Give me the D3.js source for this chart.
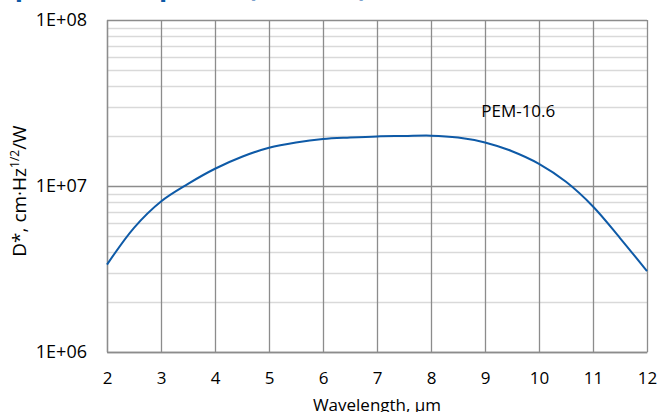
<!DOCTYPE html>
<html>
<head>
<meta charset="utf-8">
<script src="https://cdn.jsdelivr.net/npm/d3@7"></script>
<style>
  html, body { margin: 0; padding: 0; background: #fff; }
  svg { display: block; font-family: "Open Sans", "Noto Sans", sans-serif; }
</style>
</head>
<body>
<div id="chart"></div>
<script>
// ── Data ──
const wavelengths = [2, 2.5, 3, 3.5, 4, 4.5, 5, 5.5, 6, 6.5, 7, 7.5, 8, 8.5, 9, 9.5, 10, 10.5, 11, 11.5, 12];
const detectivity = [3.36e6, 5.6e6, 8.07e6, 1.03e7, 1.27e7, 1.5e7, 1.7e7, 1.83e7, 1.92e7, 1.96e7,
  1.99e7, 2.0e7, 2.01e7, 1.96e7, 1.83e7, 1.62e7, 1.36e7, 1.06e7, 7.53e6, 4.86e6, 3.07e6];
const xTicks = [2, 3, 4, 5, 6, 7, 8, 9, 10, 11, 12];
const yDecades = [1e6, 1e7, 1e8];
const yTickLabels = ["1E+06", "1E+07", "1E+08"];
const seriesName = "PEM-10.6";
const titleText = "Spectral response (@ 300 K)";

const W = 658, H = 412;
const M = { t: 20, r: 11, b: 60, l: 107 };
const w = W - M.l - M.r;
const h = H - M.t - M.b;
const FONT = "'Open Sans', 'Noto Sans', sans-serif";

const svg = d3.select("#chart").append("svg")
  .attr("width", W)
  .attr("height", H);

// title, mostly cut off at the top edge
svg.append("text")
  .attr("x", 0)
  .attr("y", -4)
  .attr("fill", "#0e5aa7")
  .style("font-size", "27px")
  .style("font-weight", "bold")
  .text(titleText);

const g = svg.append("g").attr("transform", `translate(${M.l},${M.t})`);

const x = d3.scaleLinear().domain([2, 12]).range([0, w]);
const y = d3.scaleLog().domain([1e6, 1e8]).range([h, 0]);

// ── minor horizontal grid ──
const minor = [];
yDecades.slice(0, -1).forEach((d) => {
  for (let k = 2; k <= 9; k++) minor.push(d * k);
});

g.append("g")
  .selectAll("line")
  .data(minor)
  .join("line")
  .attr("x1", 0).attr("x2", w)
  .attr("y1", (d) => Math.round(y(d)) + 0.5)
  .attr("y2", (d) => Math.round(y(d)) + 0.5)
  .attr("stroke", "#d9d9d9")
  .attr("stroke-width", 1.5);

// ── major horizontal grid ──
g.append("g")
  .selectAll("line")
  .data(yDecades)
  .join("line")
  .attr("x1", 0).attr("x2", w)
  .attr("y1", (d) => Math.round(y(d)) + 0.5)
  .attr("y2", (d) => Math.round(y(d)) + 0.5)
  .attr("stroke", "#8c8c8c")
  .attr("stroke-width", 1.3);

// ── vertical grid ──
g.append("g")
  .selectAll("line")
  .data(xTicks)
  .join("line")
  .attr("x1", (d) => Math.round(x(d)) + 0.5)
  .attr("x2", (d) => Math.round(x(d)) + 0.5)
  .attr("y1", 0).attr("y2", h)
  .attr("stroke", "#8c8c8c")
  .attr("stroke-width", 1.3);

// ── axes ──
const xAxis = g.append("g")
  .attr("transform", `translate(0,${h})`)
  .call(d3.axisBottom(x).tickValues(xTicks).tickSize(0).tickPadding(20).tickFormat(d3.format("d")));
xAxis.select(".domain").attr("stroke", "#8c8c8c").attr("stroke-width", 1.3);
xAxis.selectAll("text").attr("fill", "#000").style("font-size", "17px").style("font-family", FONT);

const yAxis = g.append("g")
  .call(d3.axisLeft(y).tickValues(yDecades).tickSize(0).tickPadding(20)
    .tickFormat((d, i) => yTickLabels[i]));
yAxis.select(".domain").attr("stroke", "#8c8c8c").attr("stroke-width", 1.3);
yAxis.selectAll("text").attr("fill", "#000").style("font-size", "18px").style("font-family", FONT);

// ── axis titles ──
svg.append("text")
  .attr("x", M.l + w / 2)
  .attr("y", 411)
  .attr("text-anchor", "middle")
  .style("font-size", "17px")
  .text("Wavelength, µm");

const yt = svg.append("text")
  .attr("transform", `translate(26,${M.t + h / 2 + 5}) rotate(-90)`)
  .attr("text-anchor", "middle")
  .style("font-size", "19px");
yt.append("tspan").text("D*, cm·Hz");
yt.append("tspan").attr("dy", -7).style("font-size", "12px").text("1/2");
yt.append("tspan").attr("dy", 7).text("/W");

// ── series ──
const pts = wavelengths.map((d, i) => [d, detectivity[i]]);
g.append("path")
  .datum(pts)
  .attr("fill", "none")
  .attr("stroke", "#0e5aa7")
  .attr("stroke-width", 2)
  .attr("d", d3.line().x((d) => x(d[0])).y((d) => y(d[1])).curve(d3.curveCatmullRom.alpha(0.5)));

// series label
g.append("text")
  .attr("x", x(8.93))
  .attr("y", y(2.62e7))
  .style("font-size", "17px")
  .text(seriesName);
</script>
</body>
</html>
